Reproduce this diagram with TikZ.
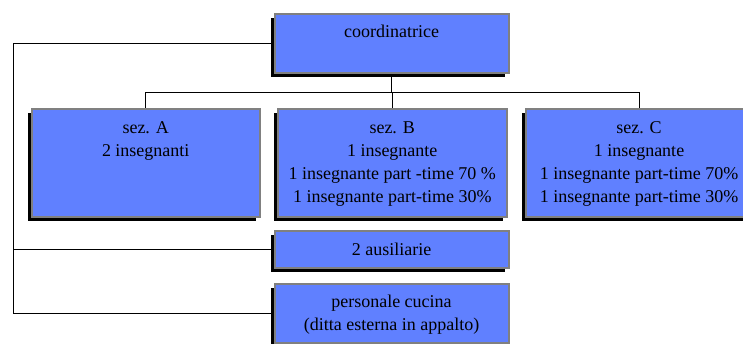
\documentclass[tikz,border=0pt]{standalone}
\usepackage{fontspec}
\setmainfont{Liberation Serif}
\usetikzlibrary{shadows,backgrounds}
\definecolor{boxblue}{RGB}{96,128,255}
\definecolor{boxgray}{RGB}{128,128,128}
\tikzset{
  orgbox/.style={draw=boxgray, line width=2pt, fill=boxblue, inner sep=0pt,
    anchor=north west,
    general shadow={fill=black, shadow xshift=-4pt, shadow yshift=-4pt}},
  orgtxt/.style={anchor=north, align=center, inner sep=0pt,
    font=\fontsize{18}{23}\selectfont},
  conn/.style={draw=black, line width=0.9pt}
}
\begin{document}
\begin{tikzpicture}[x=1pt,y=-1pt]
\useasboundingbox (0,0) rectangle (743,343);
\node[orgbox, minimum width=234pt, minimum height=59pt] (coord) at (273.5,12.5) {};
\node[orgbox, minimum width=227.5pt, minimum height=107.5pt] (A) at (31,108.3) {};
\node[orgbox, minimum width=228.5pt, minimum height=107.5pt] (B) at (277,108.3) {};
\node[orgbox, minimum width=227pt, minimum height=107.5pt] (C) at (524.5,108.3) {};
\node[orgbox, minimum width=234pt, minimum height=37pt] (aus) at (273.5,230.3) {};
\node[orgbox, minimum width=234pt, minimum height=59pt] (pers) at (273.5,282.7) {};

\node[orgtxt] (tcoord) at ([yshift=-8.4pt]coord.north) {\strut coordinatrice};
\node[orgtxt] (tA) at ([yshift=-8.4pt]A.north) {\strut sez. A\\2 insegnanti};
\node[orgtxt] (tB) at ([yshift=-8.4pt]B.north) {\strut sez. B\\1 insegnante\\1 insegnante part -time 70 \%\\1 insegnante part-time 30\%};
\node[orgtxt] (tC) at ([yshift=-8.4pt]C.north) {\strut sez. C\\1 insegnante\\1 insegnante part-time 70\%\\1 insegnante part-time 30\%};
\node[orgtxt] (taus) at ([yshift=-8.4pt]aus.north) {\strut 2 ausiliarie};
\node[orgtxt] (tpers) at ([yshift=-8.4pt]pers.north) {\strut personale cucina\\(ditta esterna in appalto)};

\coordinate (bus) at (390,92);
\coordinate (lx) at (13.5,0);
\begin{scope}[on background layer]
\draw[conn] (coord.south) -- (coord.south |- bus);
\draw[conn] (A.north) -- (A.north |- bus) -- (C.north |- bus) -- (C.north);
\draw[conn] (B.north) -- (B.north |- bus);
\draw[conn] (coord.west) -- (lx |- coord.west) -- (lx |- pers.west) -- (pers.west);
\draw[conn] (aus.west) -- (lx |- aus.west);
\end{scope}
\end{tikzpicture}
\end{document}
